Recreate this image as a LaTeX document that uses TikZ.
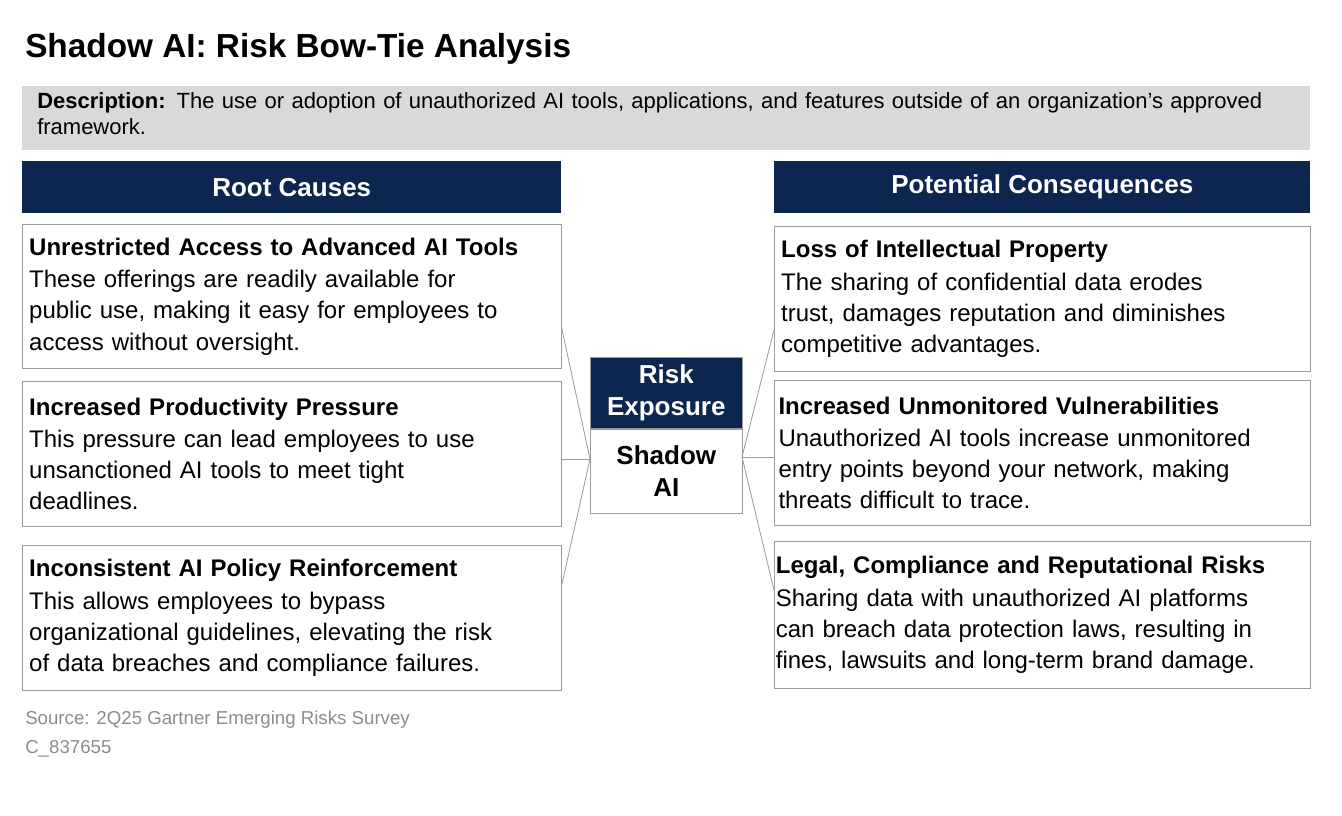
\documentclass[tikz,border=0pt]{standalone}
\usepackage{fontspec}
\setmainfont{Liberation Sans}
\usetikzlibrary{positioning}
\definecolor{navy}{HTML}{0C2650}
\definecolor{descgray}{HTML}{D9D9D9}
\definecolor{edgegray}{HTML}{9A9A9A}
\definecolor{srcgray}{HTML}{8C8C8C}
\tikzset{
  head/.style={fill=navy, text=white, font=\fontsize{19.5}{22}\selectfont\bfseries,
    anchor=north west, minimum height=39pt, inner sep=0pt},
  item/.style={draw=edgegray, line width=0.8pt, fill=white, anchor=north west,
    text width=394pt, align=left, inner xsep=5pt, inner ysep=3pt,
    font=\fontsize{18}{23.3}\selectfont},
  link/.style={draw=edgegray, line width=0.6pt},
}
\newcommand{\itemtitle}[1]{{\bfseries #1}\\[1pt]}
\begin{document}
\begin{tikzpicture}[x=0.75pt,y=-0.75pt]
  \useasboundingbox (0,0) rectangle (1342,816);
  \node[anchor=base west, inner sep=0pt, font=\fontsize{25}{29}\selectfont\bfseries] (title) at (25,58) {Shadow AI: Risk Bow-Tie Analysis};
  \node[fill=descgray, anchor=north west, minimum width=966pt, minimum height=48pt, inner sep=0pt] (descbox) at (22,86) {};
  \node[anchor=north west, text width=950pt, align=left, inner sep=0pt,
        font=\fontsize{16.5}{19.5}\selectfont] (desc) at (37,92)
    {\textbf{Description:} The use or adoption of unauthorized AI tools, applications, and features outside of an organization’s approved\\framework.};

  \node[head, minimum width=404.25pt] (rc) at (22,161) {Root Causes};
  \node[head, minimum width=402pt] (pc) at (774,161) {Potential Consequences};

  \node[item, minimum height=108pt] (c1) at (22,224)
    {\itemtitle{Unrestricted Access to Advanced AI Tools}These offerings are readily available for\\public use, making it easy for employees to\\access without oversight.};
  \node[item, minimum height=108.75pt] (c2) at (22,381)
    {\itemtitle{Increased Productivity Pressure}This pressure can lead employees to use\\unsanctioned AI tools to meet tight\\deadlines.};
  \node[item, minimum height=108.75pt] (c3) at (22,545)
    {\itemtitle{Inconsistent AI Policy Reinforcement}This allows employees to bypass\\organizational guidelines, elevating the risk\\of data breaches and compliance failures.};

  \node[item, text width=392pt, minimum height=108.75pt] (q1) at (774,226)
    {\itemtitle{Loss of Intellectual Property}The sharing of confidential data erodes\\trust, damages reputation and diminishes\\competitive advantages.};
  \node[item, text width=396pt, inner xsep=3pt, minimum height=108.75pt] (q2) at (774,380)
    {\itemtitle{Increased Unmonitored Vulnerabilities}Unauthorized AI tools increase unmonitored\\entry points beyond your network, making\\threats difficult to trace.};
  \node[item, text width=400pt, inner xsep=1pt, minimum height=110pt] (q3) at (774,541)
    {\itemtitle{Legal, Compliance and Reputational Risks}Sharing data with unauthorized AI platforms\\can breach data protection laws, resulting in\\fines, lawsuits and long-term brand damage.};

  \node[fill=navy, draw=edgegray, text=white, anchor=north west, minimum width=114pt, minimum height=53.25pt,
        inner sep=0pt, align=center, font=\fontsize{19.5}{24}\selectfont\bfseries] (risk) at (590,357) {Risk\\Exposure};
  \node[fill=white, draw=edgegray, anchor=north, minimum width=114pt, minimum height=63pt,
        inner sep=0pt, align=center, font=\fontsize{19.5}{24}\selectfont\bfseries] (shadow) at (risk.south) {Shadow\\AI};

  \coordinate (hubL) at (590,459);
  \coordinate (hubR) at (742,457);
  \draw[link] (c1.east |- 0,328) -- (hubL);
  \draw[link] (c2.east |- 0,459) -- (hubL);
  \draw[link] (c3.east |- 0,585) -- (hubL);
  \draw[link] (hubR) -- (q1.west |- 0,330);
  \draw[link] (hubR) -- (q2.west |- 0,457);
  \draw[link] (hubR) -- (q3.west |- 0,590);

  \node[anchor=base west, inner sep=0pt, text=srcgray, font=\fontsize{14}{16}\selectfont] (src) at (25,724) {Source: 2Q25 Gartner Emerging Risks Survey};
  \node[anchor=base west, inner sep=0pt, text=srcgray, font=\fontsize{14}{16}\selectfont] (code) at (25,753) {C\_837655};
\end{tikzpicture}
\end{document}
